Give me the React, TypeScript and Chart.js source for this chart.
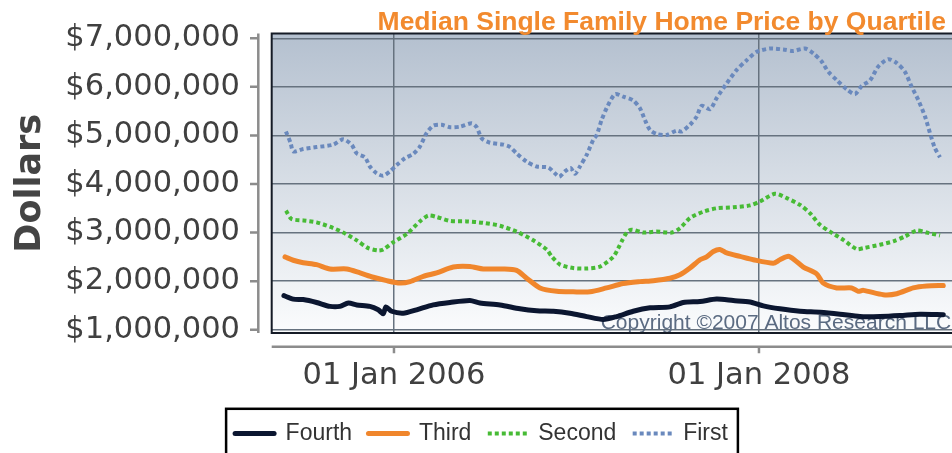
import React, { useEffect, useRef } from "react";
import { Chart, registerables } from "chart.js";

Chart.register(...registerables);

// ---------- text ----------
const TITLE = "Median Single Family Home Price by Quartile";
const Y_TITLE = "Dollars";
const COPYRIGHT = "Copyright ©2007 Altos Research LLC";
const SERIES_NAMES = ["Fourth", "Third", "Second", "First"];

// ---------- axes (x in decimal years) ----------
const X_MIN = 2005.33;
const X_MAX = 2009.118;
const X_TICKS = [2006, 2008];
const X_TICK_LABELS = ["01 Jan 2006", "01 Jan 2008"];

const Y_MIN = 932000;
const Y_MAX = 7099000;
const Y_TICKS = [1000000, 2000000, 3000000, 4000000, 5000000, 6000000, 7000000];
const Y_TICK_LABELS = ["$1,000,000", "$2,000,000", "$3,000,000", "$4,000,000", "$5,000,000", "$6,000,000", "$7,000,000"];

// ---------- data ----------
const FOURTH_T = [2005.397, 2005.448, 2005.503, 2005.576, 2005.649, 2005.704, 2005.75, 2005.796, 2005.868, 2005.914, 2005.941, 2005.956, 2005.987, 2006.051, 2006.124, 2006.215, 2006.307, 2006.416, 2006.471, 2006.581, 2006.69, 2006.782, 2006.873, 2006.964, 2007.056, 2007.147, 2007.22, 2007.311, 2007.403, 2007.512, 2007.585, 2007.677, 2007.768, 2007.859, 2007.951, 2008.024, 2008.115, 2008.225, 2008.334, 2008.444, 2008.553, 2008.663, 2008.773, 2008.882, 2009.01];
const FOURTH_V = [1700000, 1630000, 1620000, 1560000, 1480000, 1480000, 1550000, 1510000, 1480000, 1410000, 1330000, 1470000, 1380000, 1340000, 1410000, 1510000, 1560000, 1600000, 1550000, 1510000, 1430000, 1390000, 1380000, 1340000, 1270000, 1210000, 1270000, 1380000, 1450000, 1470000, 1560000, 1580000, 1630000, 1600000, 1570000, 1490000, 1430000, 1380000, 1360000, 1320000, 1270000, 1270000, 1290000, 1320000, 1310000];

const THIRD_T = [2005.403, 2005.448, 2005.503, 2005.576, 2005.649, 2005.741, 2005.814, 2005.887, 2005.96, 2006.033, 2006.088, 2006.161, 2006.234, 2006.325, 2006.416, 2006.489, 2006.599, 2006.672, 2006.727, 2006.8, 2006.892, 2006.982, 2007.074, 2007.165, 2007.256, 2007.348, 2007.421, 2007.512, 2007.567, 2007.622, 2007.677, 2007.713, 2007.75, 2007.786, 2007.823, 2007.896, 2007.969, 2008.078, 2008.115, 2008.161, 2008.197, 2008.243, 2008.316, 2008.352, 2008.426, 2008.508, 2008.544, 2008.572, 2008.681, 2008.755, 2008.845, 2008.919, 2009.01];
const THIRD_V = [2500000, 2430000, 2380000, 2340000, 2250000, 2250000, 2170000, 2080000, 2010000, 1960000, 1990000, 2100000, 2170000, 2290000, 2300000, 2250000, 2250000, 2220000, 2060000, 1860000, 1790000, 1780000, 1780000, 1860000, 1950000, 1990000, 2010000, 2060000, 2130000, 2270000, 2440000, 2500000, 2610000, 2650000, 2580000, 2510000, 2440000, 2370000, 2440000, 2510000, 2430000, 2290000, 2150000, 1960000, 1860000, 1860000, 1790000, 1810000, 1720000, 1740000, 1860000, 1900000, 1910000];

const SECOND_T = [2005.408, 2005.439, 2005.503, 2005.576, 2005.649, 2005.722, 2005.796, 2005.859, 2005.914, 2005.941, 2005.996, 2006.07, 2006.142, 2006.188, 2006.234, 2006.307, 2006.398, 2006.489, 2006.581, 2006.672, 2006.763, 2006.837, 2006.864, 2006.91, 2006.982, 2007.056, 2007.129, 2007.202, 2007.229, 2007.248, 2007.275, 2007.302, 2007.366, 2007.439, 2007.522, 2007.567, 2007.622, 2007.695, 2007.768, 2007.859, 2007.951, 2008.005, 2008.088, 2008.152, 2008.225, 2008.279, 2008.334, 2008.389, 2008.462, 2008.535, 2008.572, 2008.663, 2008.736, 2008.8, 2008.864, 2008.919, 2008.992];
const SECOND_V = [3450000, 3280000, 3250000, 3210000, 3120000, 3000000, 2840000, 2680000, 2630000, 2650000, 2800000, 2970000, 3230000, 3350000, 3320000, 3240000, 3230000, 3200000, 3140000, 3020000, 2840000, 2650000, 2510000, 2340000, 2270000, 2260000, 2300000, 2500000, 2680000, 2820000, 3000000, 3060000, 3000000, 3020000, 3000000, 3090000, 3300000, 3430000, 3500000, 3520000, 3560000, 3640000, 3800000, 3710000, 3570000, 3400000, 3160000, 3020000, 2850000, 2660000, 2680000, 2750000, 2820000, 2920000, 3040000, 3000000, 2940000];

const FIRST_T = [2005.408, 2005.434, 2005.448, 2005.503, 2005.576, 2005.667, 2005.722, 2005.768, 2005.796, 2005.841, 2005.868, 2005.905, 2005.941, 2005.978, 2006.015, 2006.06, 2006.106, 2006.142, 2006.179, 2006.215, 2006.261, 2006.307, 2006.362, 2006.426, 2006.453, 2006.481, 2006.526, 2006.599, 2006.636, 2006.672, 2006.727, 2006.782, 2006.845, 2006.882, 2006.906, 2006.937, 2006.968, 2006.992, 2007.019, 2007.056, 2007.092, 2007.111, 2007.138, 2007.165, 2007.211, 2007.256, 2007.311, 2007.348, 2007.375, 2007.403, 2007.439, 2007.494, 2007.549, 2007.576, 2007.622, 2007.659, 2007.686, 2007.732, 2007.768, 2007.823, 2007.878, 2007.933, 2007.987, 2008.06, 2008.133, 2008.188, 2008.252, 2008.298, 2008.344, 2008.38, 2008.426, 2008.481, 2008.526, 2008.563, 2008.608, 2008.654, 2008.708, 2008.755, 2008.8, 2008.837, 2008.873, 2008.91, 2008.937, 2008.964, 2008.992];
const FIRST_V = [5080000, 4840000, 4670000, 4720000, 4760000, 4810000, 4920000, 4810000, 4630000, 4550000, 4360000, 4220000, 4170000, 4260000, 4390000, 4530000, 4620000, 4770000, 5050000, 5200000, 5220000, 5170000, 5180000, 5250000, 5170000, 4940000, 4850000, 4810000, 4760000, 4630000, 4460000, 4360000, 4340000, 4220000, 4150000, 4260000, 4330000, 4210000, 4360000, 4600000, 4910000, 5010000, 5320000, 5560000, 5850000, 5800000, 5720000, 5560000, 5320000, 5110000, 5030000, 5010000, 5100000, 5080000, 5220000, 5390000, 5610000, 5540000, 5770000, 6070000, 6350000, 6550000, 6720000, 6790000, 6770000, 6740000, 6790000, 6690000, 6520000, 6310000, 6140000, 5950000, 5850000, 6020000, 6130000, 6420000, 6570000, 6490000, 6310000, 6000000, 5730000, 5390000, 5050000, 4740000, 4550000];

// ---------- layout / style ----------
const CANVAS_W = 963;
const CANVAS_H = 455;
const PLOT_LEFT = 271.7;
const PLOT_TOP = 33.5;
const PLOT_BOTTOM = 333;
const LEGEND_LINE = 39;
const TICK_FONT = { family: "'DejaVu Sans', Verdana, sans-serif", size: 30.5 };
const GRID_COLOR = "#66727f";
const AXIS_COLOR = "#8c8c8c";

export default function App() {
  const ref = useRef<HTMLCanvasElement | null>(null);

  useEffect(() => {
    const canvas = ref.current;
    if (!canvas) return;
    const pts = (t: number[], v: number[]) => t.map((x, i) => ({ x, y: v[i] }));

    const decor = {
      id: "decor",
      beforeDraw(chart: any) {
        const { ctx, chartArea: a } = chart;
        const g = ctx.createLinearGradient(0, a.top, 0, a.bottom);
        g.addColorStop(0, "#b4c0cf");
        g.addColorStop(1, "#fbfcfd");
        ctx.save();
        ctx.fillStyle = g;
        ctx.fillRect(a.left, a.top, a.right - a.left, a.bottom - a.top);
        ctx.restore();
      },
      beforeDatasetsDraw(chart: any) {
        const { ctx, chartArea: a } = chart;
        ctx.save();
        ctx.font = "21px 'Liberation Sans', Arial, sans-serif";
        ctx.fillStyle = "#5b6b82";
        ctx.textAlign = "left";
        ctx.textBaseline = "alphabetic";
        ctx.fillText(COPYRIGHT, 600.7, 329);
        ctx.strokeStyle = "#151b26";
        ctx.lineWidth = 2;
        ctx.beginPath();
        ctx.moveTo(a.right + 5, a.top);
        ctx.lineTo(a.left, a.top);
        ctx.lineTo(a.left, a.bottom);
        ctx.lineTo(a.right + 5, a.bottom);
        ctx.stroke();
        ctx.restore();
      },
      afterDraw(chart: any) {
        const { ctx, chartArea: a, scales } = chart;
        ctx.save();
        // offset axes
        ctx.strokeStyle = AXIS_COLOR;
        ctx.lineWidth = 2.5;
        const ax = a.left - 13.4;
        ctx.beginPath();
        ctx.moveTo(ax, a.top);
        ctx.lineTo(ax, a.bottom);
        for (const t of scales.y.ticks) {
          const py = scales.y.getPixelForValue(t.value);
          ctx.moveTo(ax - 8.3, py);
          ctx.lineTo(ax, py);
        }
        const ay = a.bottom + 13.7;
        ctx.moveTo(a.left, ay);
        ctx.lineTo(a.right, ay);
        for (const t of scales.x.ticks) {
          const px = scales.x.getPixelForValue(t.value);
          ctx.moveTo(px, ay);
          ctx.lineTo(px, ay + 6.5);
        }
        ctx.stroke();
        // title
        ctx.font = "bold 26.5px 'Liberation Sans', Arial, sans-serif";
        ctx.fillStyle = "#f28a2e";
        ctx.textAlign = "right";
        ctx.textBaseline = "alphabetic";
        ctx.fillText(TITLE, 946, 30);
        // legend samples + frame
        const hb = chart.legend && chart.legend.legendHitBoxes;
        if (hb && hb.length) {
          hb.forEach((box: any, i: number) => {
            const ds: any = chart.data.datasets[i];
            const cy = box.top + box.height / 2;
            ctx.save();
            ctx.strokeStyle = ds.borderColor;
            ctx.lineWidth = ds.borderWidth;
            ctx.lineCap = ds.borderCapStyle || "butt";
            ctx.setLineDash(ds.borderDash || []);
            ctx.beginPath();
            ctx.moveTo(box.left, cy);
            ctx.lineTo(box.left + LEGEND_LINE, cy);
            ctx.stroke();
            ctx.restore();
          });
          const first = hb[0];
          const last = hb[hb.length - 1];
          const l = first.left - 9;
          const r = last.left + last.width + 10;
          const mid = first.top + first.height / 2;
          const top = mid - 24.7;
          ctx.setLineDash([]);
          ctx.strokeStyle = "#000";
          ctx.lineWidth = 2.5;
          ctx.strokeRect(l, top, r - l, 60);
        }
        ctx.restore();
      },
    };

    const chart = new Chart(canvas, {
      type: "line",
      data: {
        datasets: [
          {
            label: SERIES_NAMES[0],
            data: pts(FOURTH_T, FOURTH_V),
            borderColor: "#0b1630",
            backgroundColor: "#0b1630",
            borderWidth: 5,
            borderCapStyle: "round",
            borderJoinStyle: "round",
          },
          {
            label: SERIES_NAMES[1],
            data: pts(THIRD_T, THIRD_V),
            borderColor: "#f0862c",
            backgroundColor: "#f0862c",
            borderWidth: 5,
            borderCapStyle: "round",
            borderJoinStyle: "round",
          },
          {
            label: SERIES_NAMES[2],
            data: pts(SECOND_T, SECOND_V),
            borderColor: "#47bb35",
            backgroundColor: "#47bb35",
            borderWidth: 4,
            borderDash: [4, 3],
          },
          {
            label: SERIES_NAMES[3],
            data: pts(FIRST_T, FIRST_V),
            borderColor: "#6a89bd",
            backgroundColor: "#6a89bd",
            borderWidth: 4,
            borderDash: [4, 3],
          },
        ],
      },
      options: {
        responsive: false,
        maintainAspectRatio: false,
        devicePixelRatio: 1,
        animation: false,
        elements: { point: { radius: 0 }, line: { tension: 0.25, fill: false } },
        layout: { padding: { top: PLOT_TOP, left: 0, right: 0, bottom: 0 } },
        plugins: {
          title: { display: false },
          tooltip: { enabled: false },
          legend: {
            position: "bottom",
            labels: {
              usePointStyle: true,
              pointStyle: "line",
              pointStyleWidth: LEGEND_LINE,
              color: "#333",
              padding: 16.4,
              font: { family: "'Liberation Sans', Arial, sans-serif", size: 23 },
              generateLabels: (chart: any) =>
                (Chart.defaults as any).plugins.legend.labels
                  .generateLabels(chart)
                  .map((it: any) => ({ ...it, lineWidth: 0, pointStyle: "line" })),
            },
          },
        },
        scales: {
          x: {
            type: "linear",
            min: X_MIN,
            max: X_MAX,
            bounds: "data",
            afterBuildTicks: (s: any) => {
              s.ticks = X_TICKS.map((v) => ({ value: v }));
            },
            afterFit: (s: any) => {
              const lh = s.chart.legend ? s.chart.legend.height : 0;
              s.height = s.chart.height - lh - PLOT_BOTTOM;
              s.paddingLeft = 0;
              s.paddingRight = 0;
            },
            grid: { color: GRID_COLOR, lineWidth: 1.5, drawTicks: false },
            border: { display: false },
            ticks: {
              padding: 24.7,
              maxRotation: 0,
              autoSkip: false,
              color: "#404040",
              font: TICK_FONT,
              callback: (v: any) => X_TICK_LABELS[X_TICKS.indexOf(Number(v))] ?? "",
            },
          },
          y: {
            type: "linear",
            min: Y_MIN,
            max: Y_MAX,
            bounds: "data",
            afterBuildTicks: (s: any) => {
              s.ticks = Y_TICKS.map((v) => ({ value: v }));
            },
            afterFit: (s: any) => {
              s.width = PLOT_LEFT;
              s.paddingTop = 0;
              s.paddingBottom = 0;
            },
            grid: { color: GRID_COLOR, lineWidth: 1.5, drawTicks: false },
            border: { display: false },
            ticks: {
              padding: 31.7,
              color: "#404040",
              font: TICK_FONT,
              autoSkip: false,
              callback: (v: any) => Y_TICK_LABELS[Y_TICKS.indexOf(Number(v))] ?? "",
            },
            title: {
              display: true,
              text: Y_TITLE,
              color: "#444",
              font: { family: "'DejaVu Sans', Verdana, sans-serif", size: 35, weight: "bold" },
              padding: { top: 9.5, bottom: 0 },
            },
          },
        },
      },
      plugins: [decor],
    } as any);

    return () => chart.destroy();
  }, []);

  return (
    <div
      style={{
        position: "absolute",
        left: 0,
        top: 0,
        width: 952,
        height: 453,
        overflow: "hidden",
        background: "#fff",
      }}
    >
      <canvas
        ref={ref}
        width={CANVAS_W}
        height={CANVAS_H}
        style={{ display: "block", width: CANVAS_W, height: CANVAS_H }}
      />
    </div>
  );
}
